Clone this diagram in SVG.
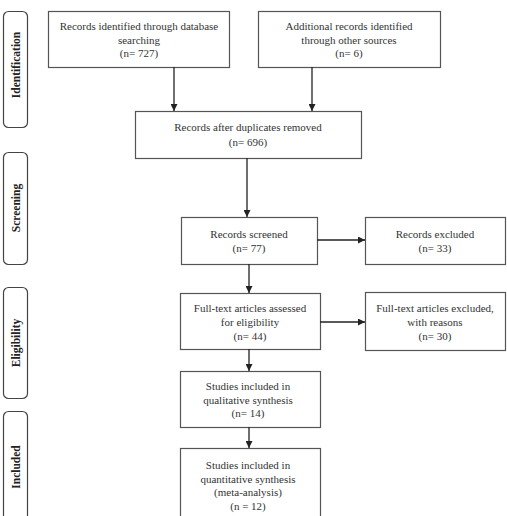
<svg xmlns="http://www.w3.org/2000/svg" width="507" height="516" viewBox="0 0 507 516">
<defs>
<marker id="ah" viewBox="0 0 10 10" refX="10" refY="5" markerWidth="7" markerHeight="7" markerUnits="userSpaceOnUse" orient="auto">
<path d="M0,0 L10,5 L0,10 z" fill="#222"/>
</marker>
<style>
.box{fill:#fff;stroke:#555;stroke-width:1.2}
.side{fill:#fff;stroke:#444;stroke-width:1.2}
.t{font-family:"Liberation Serif","Times New Roman",serif;font-size:11px;fill:#333;text-anchor:middle}
.s{font-family:"Liberation Serif","Times New Roman",serif;font-size:11.5px;font-weight:bold;fill:#222;text-anchor:middle}
.c{stroke:#222;stroke-width:1.3;fill:none;marker-end:url(#ah)}
</style>
</defs>
<rect width="507" height="516" fill="#fff"/>
<g id="stage-identification"><rect class="side" x="3.5" y="11.5" width="24" height="116" rx="5"/><text class="s" transform="translate(19.5,65) rotate(-90)">Identification</text></g>
<g id="stage-screening"><rect class="side" x="3.5" y="152.5" width="24" height="112" rx="5"/><text class="s" transform="translate(19.5,208) rotate(-90)">Screening</text></g>
<g id="stage-eligibility"><rect class="side" x="3.5" y="287.5" width="24" height="111" rx="5"/><text class="s" transform="translate(19.5,343) rotate(-90)">Eligibility</text></g>
<g id="stage-included"><rect class="side" x="3.5" y="411.5" width="24" height="115" rx="5"/><text class="s" transform="translate(19.5,467) rotate(-90)">Included</text></g>
<g id="n1"><rect class="box" x="48.5" y="11.5" width="181" height="56"/><text class="t" x="139" y="30">Records identified through database</text><text class="t" x="139" y="43.5">searching</text><text class="t" x="139" y="57">(n= 727)</text></g>
<g id="n2"><rect class="box" x="258.5" y="11.5" width="182" height="56"/><text class="t" x="349" y="30">Additional records identified</text><text class="t" x="349" y="43.5">through other sources</text><text class="t" x="349" y="57">(n= 6)</text></g>
<g id="n3"><rect class="box" x="135.5" y="111.5" width="226" height="47"/><text class="t" x="248" y="131">Records after duplicates removed</text><text class="t" x="248" y="145.5">(n= 696)</text></g>
<g id="n4"><rect class="box" x="181.5" y="217.5" width="136" height="47"/><text class="t" x="249" y="238">Records screened</text><text class="t" x="249" y="251.5">(n= 77)</text></g>
<g id="n5"><rect class="box" x="365.5" y="217.5" width="140" height="47"/><text class="t" x="435" y="238">Records excluded</text><text class="t" x="435" y="251.5">(n= 33)</text></g>
<g id="n6"><rect class="box" x="180.5" y="293.5" width="140" height="56"/><text class="t" x="250" y="312">Full-text articles assessed</text><text class="t" x="250" y="326">for eligibility</text><text class="t" x="250" y="340">(n= 44)</text></g>
<g id="n7"><rect class="box" x="365.5" y="292.5" width="140" height="58"/><text class="t" x="435" y="312">Full-text articles excluded,</text><text class="t" x="435" y="326">with reasons</text><text class="t" x="435" y="340">(n= 30)</text></g>
<g id="n8"><rect class="box" x="180.5" y="371.5" width="140" height="56"/><text class="t" x="248" y="390">Studies included in</text><text class="t" x="248" y="403.5">qualitative synthesis</text><text class="t" x="248" y="417">(n= 14)</text></g>
<g id="n9"><rect class="box" x="180.5" y="448.5" width="140" height="80"/><text class="t" x="248" y="469">Studies included in</text><text class="t" x="248" y="482.5">quantitative synthesis</text><text class="t" x="248" y="496">(meta-analysis)</text><text class="t" x="248" y="510">(n = 12)</text></g>
<g id="connectors">
<line class="c" x1="174" y1="67" x2="174" y2="111"/>
<line class="c" x1="312" y1="67" x2="312" y2="111"/>
<line class="c" x1="247" y1="158" x2="247" y2="217"/>
<line class="c" x1="317" y1="240" x2="365" y2="240"/>
<line class="c" x1="249" y1="264" x2="249" y2="293"/>
<line class="c" x1="320" y1="322" x2="365" y2="322"/>
<line class="c" x1="249" y1="349" x2="249" y2="371"/>
<line class="c" x1="249" y1="427" x2="249" y2="448"/>
</g>
</svg>
